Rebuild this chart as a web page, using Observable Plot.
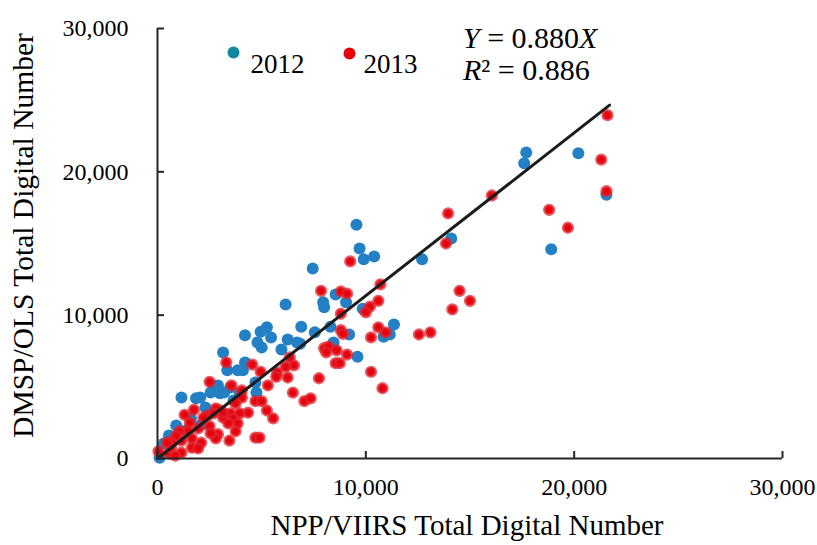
<!DOCTYPE html>
<html>
<head>
<meta charset="utf-8">
<script src="https://cdn.jsdelivr.net/npm/d3@7"></script>
<script src="https://cdn.jsdelivr.net/npm/@observablehq/plot@0.6"></script>
<style>
  body { margin: 0; background: #fff; }
  #wrap { position: relative; width: 817px; height: 545px; font-family: "Liberation Serif", "Times New Roman", serif; }
  #eq { position: absolute; left: 463px; top: 22px; font-size: 30px; line-height: 32px; color: #000; }
  svg text { font-family: "Liberation Serif", serif; }
</style>
</head>
<body>
<div id="wrap">
  <div id="chart"></div>
  <div id="eq"><i>Y</i> = 0.880<i>X</i><br><i>R</i>² = 0.886</div>
</div>
<script>
const x2012 = [17700,17600,20200,21550,18900,9550,9700,9900,10400,14100,12700,7450,8550,7950,8000,9050,9850,6150,11350,11150,10850,9200,8300,7550,6900,6850,8450,9600,4200,4950,5250,5450,4800,5000,5950,6250,6700,3150,3350,3850,4100,4200,2700,2550,3200,3650,4750,2050,1150,1850,2900,3500,3000,2300,900,550,300,100,1600,2050,1350,2550,4700,3950];
const y2012 = [21350,20600,21300,18400,14600,16300,14650,13900,14100,15350,13900,13250,11450,10900,10550,10900,10450,10750,9350,8650,8500,8650,9200,8800,9200,8000,8100,7100,8600,8850,9150,8450,8100,7750,7600,8300,8100,7400,6150,6150,6150,6700,5100,4600,4600,4050,4600,4250,4250,4200,5100,4950,4550,3550,2300,1600,1050,50,2800,2300,1950,3200,5300,4550];
const x2013 = [21600,21300,21550,18800,19700,16050,13950,13850,9250,7850,8800,9100,10700,10600,10200,10000,8800,14500,15000,14150,10600,10950,10250,12550,13100,8800,8900,8000,8200,8100,8600,9100,8550,8750,10250,10800,7750,7050,7350,6500,6350,6550,6150,5750,6250,5700,5300,4950,4550,3300,2500,3550,4050,4050,4700,5000,5250,5550,4350,3950,3500,3000,2800,3150,3650,2400,3850,3750,3450,2900,2500,1950,1450,1050,1550,2200,1750,1300,4700,4900,50,550,750,1150,1650,2100,1650,1950,1150,650,450,900,2800,2550,3400,2700,3150,3750,850];
const y2013 = [23950,20850,18650,17350,16100,18350,17100,15000,13750,11700,11650,11500,12150,11000,10600,10200,10100,11700,11000,10400,9150,8800,8450,8650,8800,8950,8700,7700,7800,7400,7550,7250,6650,6650,6050,4900,5600,4000,4200,4600,7050,6500,6400,6000,5650,5700,5100,6050,6550,6700,5350,5100,4750,4250,4000,4000,3350,2800,3200,3150,3150,3350,3500,2850,2800,3000,2450,1900,1250,1700,2250,2100,1950,1900,2500,2850,3400,3050,1450,1450,500,350,1250,1250,1400,1100,750,700,400,750,1100,1600,1400,1750,2450,3150,3200,3850,200];
const trendX = [0, 21700];
const trendY = [0, 24650];
const xTicks = [0, 10000, 20000, 30000];
const yTicks = [0, 10000, 20000, 30000];
const seriesNames = ["2012", "2013"];
const xTitle = "NPP/VIIRS Total Digital Number";
const yTitle = "DMSP/OLS Total Digital Number";

const d2012 = x2012.map((x, i) => ({x, y: y2012[i]}));
const d2013 = x2013.map((x, i) => ({x, y: y2013[i]}));
const trend = trendX.map((x, i) => ({x, y: trendY[i]}));

const BLUE = "#2380c4", RED = "#e6000b", TEAL = "#12889e", AXIS = "#262626";
const FONT = "Liberation Serif";
const fmt = d3.format(",");

const chart = Plot.plot({
  width: 817,
  height: 545,
  marginLeft: 157,
  marginRight: 35,
  marginTop: 28,
  marginBottom: 87,
  style: {fontFamily: FONT, background: "#fff", color: "#000", overflow: "visible"},
  x: {domain: [0, 30000]},
  y: {domain: [0, 30000]},
  marks: [
    Plot.dot(d2012, {x: "x", y: "y", r: 6, fill: BLUE}),
    Plot.dot(d2013, {x: "x", y: "y", r: 4.5, fill: RED, stroke: "#e0232c", strokeOpacity: 0.72, strokeWidth: 3.3}),
    Plot.line(trend, {x: "x", y: "y", stroke: "#1c1c1c", strokeWidth: 3}),
    Plot.ruleX([0], {stroke: AXIS, strokeWidth: 2}),
    Plot.ruleY([0], {stroke: AXIS, strokeWidth: 2}),
    Plot.axisX({ticks: xTicks, tickSize: -7, fill: "none", stroke: AXIS, strokeWidth: 2, label: null}),
    Plot.axisY({ticks: yTicks, tickSize: -7, fill: "none", stroke: AXIS, strokeWidth: 2, label: null}),
    Plot.axisX({ticks: xTicks, tickSize: 0, tickPadding: 19, tickFormat: fmt, fontSize: 24, fontFamily: FONT, fill: "#000", label: null}),
    Plot.axisY({ticks: yTicks, tickSize: 0, tickPadding: 29, tickFormat: fmt, fontSize: 24, fontFamily: FONT, fill: "#000", label: null}),
    Plot.text([xTitle], {frameAnchor: "bottom", textAnchor: "middle", dx: -3, dy: 76, fontSize: 29, fontFamily: FONT, fill: "#000"}),
    Plot.text([yTitle], {frameAnchor: "left", textAnchor: "middle", dx: -134, dy: -8, rotate: -90, fontSize: 29.5, fontFamily: FONT, fill: "#000"}),
    Plot.dot([seriesNames[0]], {frameAnchor: "top-left", dx: 76, dy: 24, r: 6, fill: TEAL}),
    Plot.text([seriesNames[0]], {frameAnchor: "top-left", dx: 93, dy: 25, textAnchor: "start", fontSize: 27, fontFamily: FONT, fill: "#000"}),
    Plot.dot([seriesNames[1]], {frameAnchor: "top-left", dx: 192, dy: 25, r: 6, fill: RED}),
    Plot.text([seriesNames[1]], {frameAnchor: "top-left", dx: 206, dy: 25, textAnchor: "start", fontSize: 27, fontFamily: FONT, fill: "#000"})
  ]
});
document.getElementById("chart").appendChild(chart);
</script>
</body>
</html>
